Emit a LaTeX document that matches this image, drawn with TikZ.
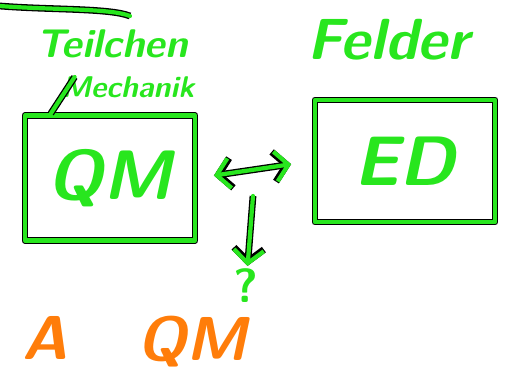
\documentclass[tikz,border=0pt]{standalone}
\usetikzlibrary{arrows.meta, positioning, calc}
\definecolor{inkgreen}{RGB}{40,230,30}
\definecolor{inkorange}{RGB}{255,125,10}
\tikzset{
  ink/.style={draw=inkgreen, line width=4.2pt, line cap=round, line join=round,
    preaction={draw=black, line width=6.8pt}},
  inkbox/.style={ink, rectangle, font=\sffamily\bfseries\itshape\fontsize{70}{70}\selectfont, text=inkgreen},
  headline/.style={text=inkgreen, inner sep=1pt},
  orangeword/.style={text=inkorange, inner sep=1pt, font=\sffamily\bfseries\itshape\fontsize{62}{62}\selectfont},
  barb/.tip={Straight Barb[length=13pt, width=30pt]}
}

\begin{document}
\begin{tikzpicture}[x=1pt, y=-1pt]
    \useasboundingbox (0,0) rectangle (511,387);

    % Stroke top left
    \draw[ink] (0,6) .. controls (50,10) and (110,8) .. (130,16);

    % Headings
    \node[headline, font=\sffamily\bfseries\itshape\fontsize{40}{40}\selectfont] (teil) at (112,44) {Teilchen};
    \node[headline, font=\sffamily\bfseries\itshape\fontsize{30}{30}\selectfont] (mech) at (128,87) {Mechanik};
    \node[headline, font=\sffamily\bfseries\itshape\fontsize{58}{58}\selectfont] (feld) at (388,40) {Felder};

    % Boxes
    \node[inkbox, minimum width=170pt, minimum height=125pt] (qm) at (110,178) {QM};
    \node[inkbox, minimum width=180pt, minimum height=122pt] (ed) at (405,161) {ED};
    \draw[ink] ([xshift=14pt,yshift=10pt]mech.west) -- ([xshift=28pt]qm.north west);

    % Arrows
    \draw[ink, barb-barb, shorten <=17pt, shorten >=22pt] (qm.east) -- (ed.west);
    \coordinate (fork) at (253,196);
    \node[headline, font=\sffamily\bfseries\fontsize{48}{48}\selectfont] (qmark) at (246,286) {?};
    \draw[ink, -barb, shorten >=2pt] (fork) -- (qmark);

    % Bottom
    \node[orangeword] (awd) at (45,338) {A};
    \node[orangeword] (qmrel) at (192,342) {QM};
\end{tikzpicture}
\end{document}
